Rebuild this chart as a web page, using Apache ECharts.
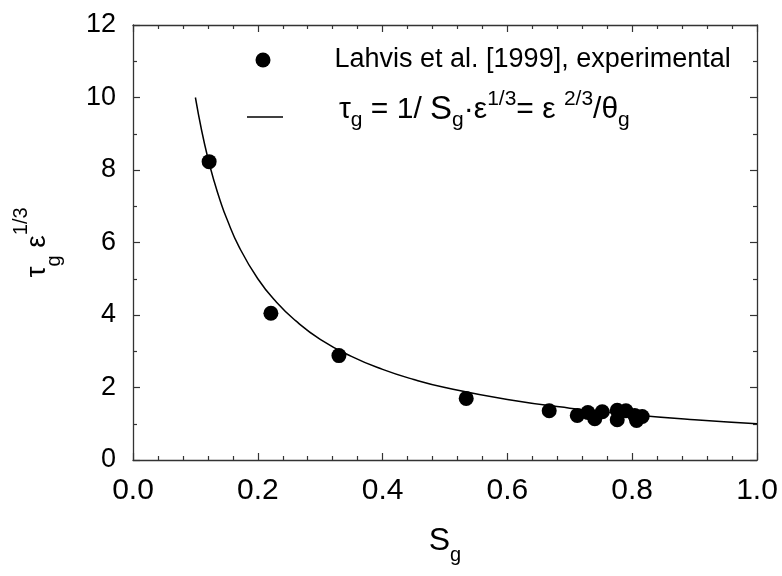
<!DOCTYPE html>
<html><head><meta charset="utf-8">
<script src="https://cdn.jsdelivr.net/npm/echarts@6/dist/echarts.min.js"></script>
<style>html,body{margin:0;padding:0;background:#fff}#c{width:782px;height:576px}</style>
</head><body><div id="c"></div>
<script>
// Experimental points (Lahvis et al. 1999)
const expS   = [0.122, 0.221, 0.330, 0.534, 0.667, 0.712, 0.729, 0.740, 0.752, 0.776, 0.776, 0.790, 0.804, 0.807, 0.816];
const expTau = [8.23,  4.05,  2.88,  1.70,  1.36,  1.23,  1.31,  1.14,  1.33,  1.37,  1.11,  1.36,  1.23,  1.09,  1.20];
// Curve tau_g = 1/S_g
const fitS   = [0.10, 0.11, 0.12, 0.13, 0.14, 0.15, 0.17, 0.20, 0.23, 0.26, 0.30, 0.35, 0.40, 0.45, 0.50, 0.60, 0.70, 0.80, 0.90, 1.00];
const fitTau = [10.0, 9.09, 8.33, 7.69, 7.14, 6.67, 5.88, 5.00, 4.35, 3.85, 3.33, 2.86, 2.50, 2.22, 2.00, 1.67, 1.43, 1.25, 1.11, 1.00];
// Tick labels
const xTickLabels = ['0.0', '0.2', '0.4', '0.6', '0.8', '1.0'];
const yTickLabels = ['0', '2', '4', '6', '8', '10', '12'];
const expName = 'Lahvis et al. [1999], experimental';
const fitName = 'fit';

const FONT = "'Liberation Sans', Arial, sans-serif";
const chart = echarts.init(document.getElementById('c'));

const lineCol = '#333';
function xAxisDef(pos, show) {
  return {
    type: 'value', position: pos, min: 0, max: 1, interval: 0.2,
    axisLine: { show: true, onZero: false, lineStyle: { color: lineCol, width: 1.3 } },
    axisTick: { show: true, inside: true, length: 7, lineStyle: { color: lineCol, width: 1.2 } },
    minorTick: { show: true, splitNumber: 5, length: 4, lineStyle: { color: lineCol, width: 1.2 } },
    splitLine: { show: false }, minorSplitLine: { show: false },
    axisLabel: show ? {
      show: true, margin: 16, fontSize: 30, lineHeight: 30, color: '#000', fontFamily: FONT,
      formatter: v => xTickLabels[Math.round(v / 0.2)]
    } : { show: false }
  };
}
function yAxisDef(pos, show) {
  return {
    type: 'value', position: pos, min: 0, max: 12, interval: 2,
    axisLine: { show: true, onZero: false, lineStyle: { color: lineCol, width: 1.3 } },
    axisTick: { show: true, inside: true, length: 7, lineStyle: { color: lineCol, width: 1.2 } },
    minorTick: { show: true, splitNumber: 2, length: 4, lineStyle: { color: lineCol, width: 1.2 } },
    splitLine: { show: false }, minorSplitLine: { show: false },
    axisLabel: show ? {
      show: true, margin: 17, fontSize: 27, color: '#000', fontFamily: FONT,
      formatter: v => yTickLabels[Math.round(v / 2)]
    } : { show: false }
  };
}

const xa = xAxisDef('bottom', true);
xa.name = '{m|S}{s|g}';
xa.nameLocation = 'middle';
xa.nameGap = 57;
xa.nameTextStyle = {
  fontFamily: FONT, color: '#000',
  rich: {
    m: { fontSize: 32, lineHeight: 48, fontFamily: FONT, color: '#000' },
    s: { fontSize: 20, lineHeight: 20, verticalAlign: 'bottom', fontFamily: FONT, color: '#000' }
  }
};
const ya = yAxisDef('left', true);
ya.name = '{m|τ}{s|g}{m| ε}{p|1/3}';
ya.nameLocation = 'middle';
ya.nameGap = 69;
ya.nameTextStyle = {
  fontFamily: FONT, color: '#000',
  rich: {
    m: { fontSize: 28, lineHeight: 53, fontFamily: FONT, color: '#000' },
    s: { fontSize: 20, lineHeight: 20, verticalAlign: 'bottom', fontFamily: FONT, color: '#000' },
    p: { fontSize: 20, lineHeight: 20, verticalAlign: 'top', fontFamily: FONT, color: '#000' }
  }
};

chart.setOption({
  animation: false,
  backgroundColor: '#fff',
  grid: { left: 133, top: 25, right: 25, bottom: 116, containLabel: false },
  xAxis: [xa, xAxisDef('top', false)],
  yAxis: [ya, yAxisDef('right', false)],
  legend: [
    {
      data: [{ name: expName, icon: 'circle' }], orient: 'vertical', left: 255.5, top: 45, padding: 0,
      itemWidth: 15, itemHeight: 15, selectedMode: false,
      itemStyle: { color: '#000', opacity: 1 },
      textStyle: { fontSize: 27, lineHeight: 30, fontFamily: FONT, color: '#000', padding: [0, 0, 0, 59] }
    },
    {
      data: [{ name: fitName, icon: 'rect' }], orient: 'vertical', left: 247, top: 89, padding: 0,
      itemWidth: 36, itemHeight: 1.5, selectedMode: false,
      itemStyle: { color: '#000' },
      formatter: () => '{t|τ}{s|g}{t| = 1/ }{S|S}{s|g}{t|·ε}{p|1/3}{t|= ε }{p|2/3}{t|/θ}{s|g}',
      textStyle: {
        fontFamily: FONT, color: '#000', padding: [0, 0, 14, 51],
        rich: {
          t: { fontSize: 30, lineHeight: 42, fontFamily: FONT, color: '#000' },
          S: { fontSize: 33, lineHeight: 42, fontFamily: FONT, color: '#000' },
          s: { fontSize: 21, lineHeight: 20, verticalAlign: 'bottom', fontFamily: FONT, color: '#000' },
          p: { fontSize: 21, lineHeight: 20, verticalAlign: 'top', fontFamily: FONT, color: '#000' }
        }
      }
    }
  ],
  series: [
    {
      name: fitName, type: 'line', smooth: true, symbol: 'none',
      data: fitS.map((s, i) => [s, fitTau[i]]),
      lineStyle: { color: '#000', width: 1.5 }, itemStyle: { color: '#000' }, z: 2
    },
    {
      name: expName, type: 'scatter', symbol: 'circle', symbolSize: 15,
      data: expS.map((s, i) => [s, expTau[i]]),
      itemStyle: { color: '#000', opacity: 1 }, z: 3
    }
  ]
});
</script></body></html>
